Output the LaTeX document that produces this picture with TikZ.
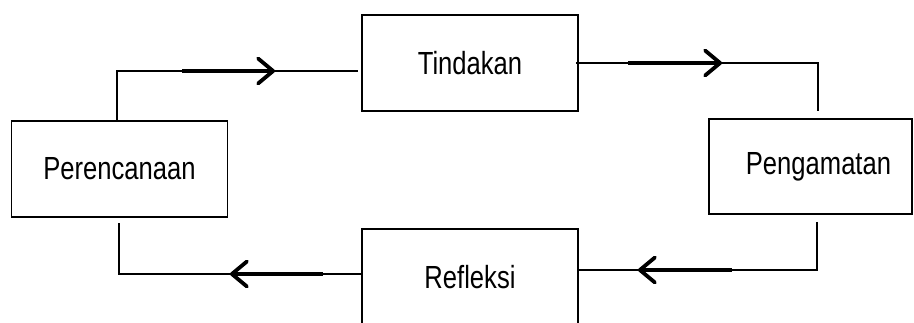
\documentclass[tikz,border=0pt]{standalone}
\usepackage{fontspec}
\setmainfont{Liberation Sans}[FakeStretch=0.8]
\usetikzlibrary{arrows.meta}
\begin{document}
\begin{tikzpicture}[x=1pt,y=-1pt,
  stepbox/.style={draw, line width=1.6pt, minimum width=216pt, minimum height=96pt, inner sep=0pt, font=\fontsize{32}{34}\selectfont},
  wire/.style={line width=1.6pt},
  flow/.style={line width=4pt, -{Straight Barb[length=15pt,width=25pt,line width=3.8pt,round]}}
]
\clip (0,0) rectangle (914,323);
\node[stepbox] (per) at (119.5,169) {Perencanaan};
\node[stepbox] (tind) at (470,63) {Tindakan};
\node[stepbox, minimum width=203pt, minimum height=95pt,
      label={[font=\fontsize{32}{34}\selectfont, xshift=8pt]center:Pengamatan}] (peng) at (810.5,166.5) {};
\node[stepbox] (refl) at (470,277) {Refleksi};
% corner and free-end coordinates
\coordinate (pt) at (117,71);
\coordinate (tl) at (358,71);
\coordinate (tr) at (818,63);
\coordinate (pgt) at (818,111);
\coordinate (pgb) at (817,222);
\coordinate (br) at (817,270);
\coordinate (bl) at (119,274);
\coordinate (pb) at (119,223);
% arrow segments
\coordinate (a1s) at (182,71);  \coordinate (a1e) at (275,71);
\coordinate (a2s) at (628,63);  \coordinate (a2e) at (722,63);
\coordinate (a3s) at (732,270); \coordinate (a3e) at (638,270);
\coordinate (a4s) at (323,274); \coordinate (a4e) at (230,274);
% connectors
\draw[wire] (per.north -| pt) -- (pt) -- (tl);
\draw[wire] ([xshift=-3pt]tind.east) -- (tr) -- (pgt);
\draw[wire] (pgb) -- (br) -- (refl.east |- br);
\draw[wire] (refl.west |- bl) -- (bl) -- (pb);
\draw[flow] (a1s) -- (a1e);
\draw[flow] (a2s) -- (a2e);
\draw[flow] (a3s) -- (a3e);
\draw[flow] (a4s) -- (a4e);
\end{tikzpicture}
\end{document}
